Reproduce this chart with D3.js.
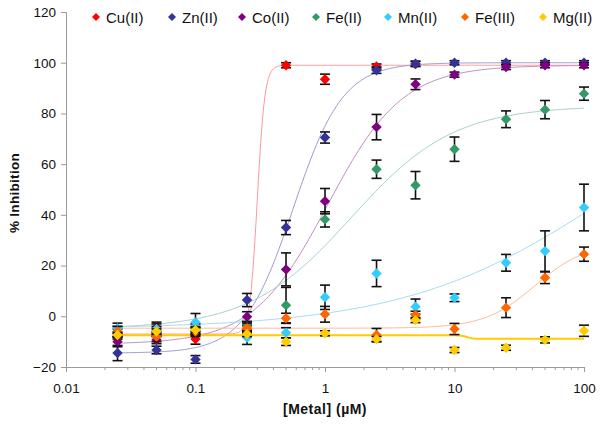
<!DOCTYPE html>
<html><head><meta charset="utf-8">
<script src="https://cdn.jsdelivr.net/npm/d3@7"></script>
<style>body{margin:0;background:#fff}svg{display:block;font-family:"Liberation Sans",Arial,sans-serif}</style>
</head><body><svg id="c" width="600" height="427"></svg>
<script>
const conc = [0.025,0.05,0.1,0.25,0.5,1,2.5,5,10,25,50,100];
const seriesNames = ["Cu(II)","Zn(II)","Co(II)","Fe(II)","Mn(II)","Fe(III)","Mg(II)"];
const markerColors = ["#FF0000","#333399","#800080","#339966","#33CCFF","#FF6600","#FFCC00"];
const curveColors = ["#FF9999","#9C9CCF","#C08CC0","#A3D1C8","#9EDDF2","#FFB892","#FFCC00"];
const cu = [-7,-4.3,-9,-5,99,93.5,98.5,99.5];
const cuErr = [2,2,2,1.5,1,2,1,1];
const zn = [-14.5,-13.3,-17,6.4,35,70.5,97,99.6,100,100,100,100];
const znErr = [3,1.5,1.5,2.6,2.8,2.2,1.2,1,0.8,0.8,0.8,0.8];
const co = [-10,-9.3,-6,-0.2,18.5,45.4,74.6,91.5,95.3,98.3,99,99];
const coErr = [2,1.5,1.5,2,6.5,5,5,2.1,1,1,1,1];
const fe2 = [-6,-6,-5,-4,4.4,38.2,58,51.7,65.9,77.7,81.5,87.8];
const fe2Err = [2,2,2,2,7,3,3.6,5.4,4.8,3.3,3.6,2.6];
const mn = [-4.7,-5,-2.4,-8.4,-6.5,7.5,16.9,3.8,7.3,21.1,25.7,42.9];
const mnErr = [2,2,3.5,2.7,2,4.8,5.2,3,1.5,3.3,8,9.2];
const fe3 = [-6,-8,-6,-4.7,-0.8,0.8,-7.4,0.5,-5,3.4,15.2,24.5];
const fe3Err = [2,2,2,2,2,3.1,2.6,1.5,2.2,3.9,2.3,2.8];
const mg = [-7.4,-6,-5.4,-7,-10,-6.7,-9,-1.5,-13.3,-12.4,-9.3,-5.7];
const mgErr = [1,1,1,1,1.5,1,1,1,1,1,1.2,2.2];
// four-parameter logistic fit parameters
const fitBottom = [-7,-14.5,-11,-5,-5,-4.7,-7.5];
const fitTop = [99,100,99,83,100,29,-8.9];
const fitIC50 = [0.3,0.57,1.05,1.6,162,42,12.5];
const fitHill = [15,2.27,1.5,1.1,0.546,2.2,20];
const yTicks = [-20,0,20,40,60,80,100,120];
const xTicks = [0.01,0.1,1,10,100];

const values = [cu,zn,co,fe2,mn,fe3,mg];
const errs = [cuErr,znErr,coErr,fe2Err,mnErr,fe3Err,mgErr];

const svg = d3.select("#c");
const x = d3.scaleLog().domain([0.01,100]).range([66,584]);
const y = d3.scaleLinear().domain([-20,120]).range([367,12]);
const axisCol = "#9a9a9a";

// y axis
const yAx = svg.append("g").attr("transform","translate(66,0)")
  .call(d3.axisLeft(y).tickValues(yTicks).tickSize(5).tickPadding(5));
yAx.select(".domain").attr("stroke",axisCol);
yAx.selectAll(".tick line").attr("stroke",axisCol);
yAx.selectAll("text").attr("font-size",13.5).attr("fill","#111").attr("font-family","Liberation Sans, Arial, sans-serif");

// x axis
const minor = [];
for (let e=-2;e<2;e++) for (let k=2;k<10;k++) minor.push(k*Math.pow(10,e));
const xAx = svg.append("g").attr("transform","translate(0,367)")
  .call(d3.axisBottom(x).tickValues(xTicks).tickFormat(d=>String(d)).tickSize(5).tickPadding(11));
xAx.select(".domain").attr("stroke",axisCol);
xAx.selectAll(".tick line").attr("stroke",axisCol);
xAx.selectAll("text").attr("font-size",13.5).attr("fill","#111").attr("font-family","Liberation Sans, Arial, sans-serif");
svg.append("g").selectAll("line").data(minor).join("line")
  .attr("x1",d=>x(d)).attr("x2",d=>x(d)).attr("y1",367).attr("y2",370)
  .attr("stroke",axisCol);

// titles
svg.append("text").attr("x",325).attr("y",414).attr("text-anchor","middle")
  .attr("font-size",14).attr("letter-spacing",0.5).attr("font-weight","bold").attr("fill","#111").text("[Metal] (µM)");
svg.append("text").attr("transform","translate(19,193) rotate(-90)").attr("text-anchor","middle")
  .attr("font-size",13.5).attr("letter-spacing",0.3).attr("font-weight","bold").attr("fill","#111").text("% Inhibition");

// fitted curves
const fourPL = i => c => fitBottom[i] + (fitTop[i]-fitBottom[i])/(1+Math.pow(fitIC50[i]/c,fitHill[i]));
const line = d3.line().x(d=>x(d[0])).y(d=>y(d[1]));
const grid = d3.range(0,301).map(k=>Math.pow(10, Math.log10(0.025)+k*(Math.log10(100)-Math.log10(0.025))/300));
seriesNames.forEach((n,i)=>{
  const f = fourPL(i);
  svg.append("path").attr("d", line(grid.map(c=>[c,f(c)])))
    .attr("fill","none").attr("stroke",curveColors[i]).attr("stroke-width", i===6?2:1);
});

// error bars and markers
const diamond = r => `M0,${-r}L${r},0L0,${r}L${-r},0Z`;
seriesNames.forEach((n,i)=>{
  const pts = values[i].map((v,j)=>({c:conc[j],v,e:errs[i][j]}));
  const g = svg.append("g");
  pts.forEach(p=>{
    const px = x(p.c);
    g.append("line").attr("x1",px).attr("x2",px).attr("y1",y(p.v+p.e)).attr("y2",y(p.v-p.e)).attr("stroke","#111").attr("stroke-width",1.6);
    [p.v+p.e,p.v-p.e].forEach(t=>g.append("line").attr("x1",px-5).attr("x2",px+5).attr("y1",y(t)).attr("y2",y(t)).attr("stroke","#111").attr("stroke-width",1.6));
  });
  g.selectAll("path").data(pts).join("path")
    .attr("transform",p=>`translate(${x(p.c)},${y(p.v)})`)
    .attr("d",diamond(5.2)).attr("fill",markerColors[i]);
});

// legend
const legX = [96,172,242,316,388,465,543];
const leg = svg.append("g");
seriesNames.forEach((n,i)=>{
  leg.append("path").attr("transform",`translate(${legX[i]},17)`).attr("d",diamond(4)).attr("fill",markerColors[i]);
  leg.append("text").attr("x",legX[i]+10).attr("y",22.5).attr("font-size",15).attr("fill","#111").text(n);
});
</script></body></html>
